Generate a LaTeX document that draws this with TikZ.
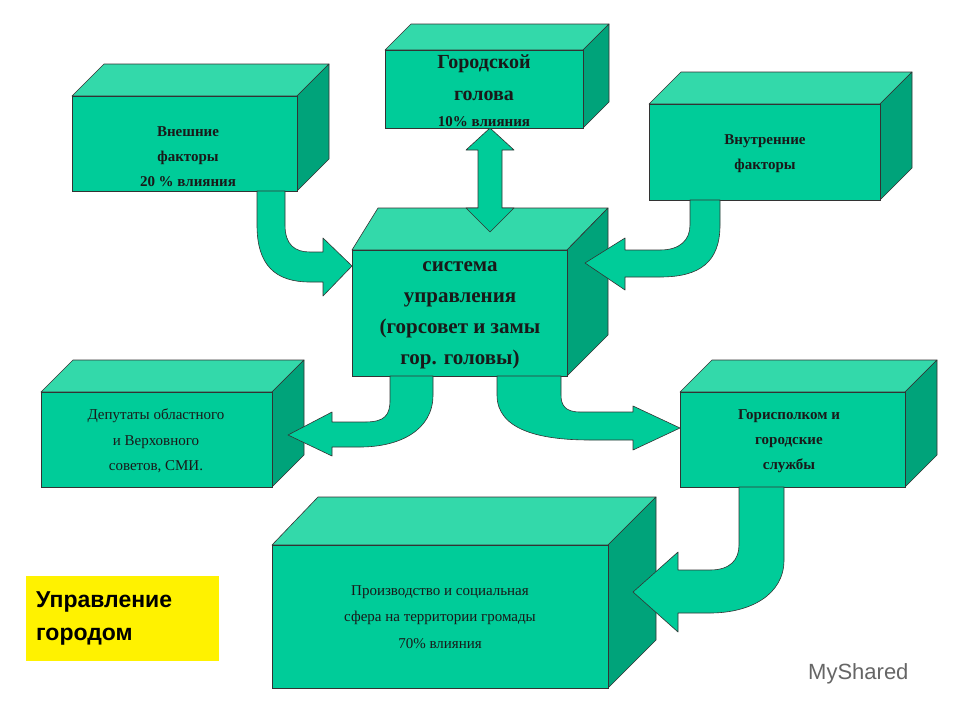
\documentclass[tikz,border=0pt]{standalone}
\usepackage{fontspec}
\setmainfont{Liberation Serif}
\newfontfamily\sansf{Liberation Sans}
\begin{document}
\begin{tikzpicture}[x=1pt,y=-1pt,
  arr/.style={fill=arrg,draw=black!80,line width=0.6pt,line join=round},
  lbl/.style={font=\bfseries\fontsize{15}{25}\selectfont,align=center,text=black!90,inner sep=0},
  big/.style={font=\bfseries\fontsize{21}{31}\selectfont,align=center,text=black!90,inner sep=0}]
\definecolor{frontg}{RGB}{0,204,153}
\definecolor{topg}{RGB}{51,217,170}
\definecolor{sideg}{RGB}{0,163,122}
\definecolor{arrg}{RGB}{0,204,153}
\useasboundingbox (0,0) rectangle (960,720);
\fill[white] (0,0) rectangle (960,720);
% box macro: x1,y1,x2,y2,d,leftback
\newcommand{\cube}[7]{%
  \filldraw[fill=topg,draw=black!80,line width=0.6pt,line join=round] (#1,#2)--(#3,#2)--(#3+#5,#2-#5)--(#1+#6,#2-#5)--cycle;
  \filldraw[fill=sideg,draw=black!80,line width=0.6pt,line join=round] (#3,#2)--(#3+#5,#2-#5)--(#3+#5,#4-#5)--(#3,#4)--cycle;
  \filldraw[fill=frontg,draw=black!80,line width=0.6pt] (#1,#2) rectangle (#3,#4);
  \coordinate (#7) at ({(#1+#3)/2},{(#2+#4)/2});}
\cube{72}{96}{297}{191}{32}{32}{b1}
\cube{385}{50}{583}{128}{26}{26}{b2}
\cube{649}{104}{880}{200}{32}{32}{b3}
\cube{41}{392}{272}{487}{32}{32}{b5}
\cube{680}{392}{905}{487}{32}{32}{b6}
\cube{272}{545}{608}{688}{48}{46}{b7}
% center box
\filldraw[fill=topg,draw=black!80,line width=0.6pt,line join=round] (352,250)--(567,250)--(608,208)--(378,208)--cycle;
\filldraw[fill=sideg,draw=black!80,line width=0.6pt,line join=round] (567,250)--(608,208)--(608,335)--(567,376)--cycle;
\filldraw[fill=frontg,draw=black!80,line width=0.6pt] (352,250) rectangle (567,376);
\coordinate (b4) at (460,313);
% arrows
\path[arr] (257,191) -- (257,225) .. controls (257,265) and (275,282) .. (310,282) -- (323,282) -- (323,296) -- (352,266) -- (323,238) -- (323,252) -- (310,252) .. controls (295,252) and (285,245) .. (285,225) -- (285,191) -- cycle;
\path[arr] (720,200) -- (720,225) .. controls (720,262) and (700,277) .. (660,277) -- (625,277) -- (625,290) -- (585,263) -- (625,238) -- (625,250) -- (660,250) .. controls (680,250) and (690,240) .. (690,225) -- (690,200) -- cycle;
\path[arr] (433,376) -- (433,395) .. controls (433,430) and (400,447) .. (360,447) -- (332,447) -- (332,456) -- (288,435) -- (332,412) -- (332,422) -- (365,422) .. controls (385,422) and (390,415) .. (390,400) -- (390,376) -- cycle;
\path[arr] (497,376) -- (497,395) .. controls (497,430) and (540,440) .. (590,440) -- (633,440) -- (633,450) -- (680,428) -- (633,406) -- (633,412) -- (580,412) .. controls (565,412) and (561,405) .. (561,395) -- (561,376) -- cycle;
\path[arr] (784,487) -- (784,560) .. controls (784,595) and (750,613) .. (710,613) -- (678,613) -- (678,632) -- (633,592) -- (678,552) -- (678,570) -- (710,570) .. controls (730,570) and (739,560) .. (739,545) -- (739,487) -- cycle;
\path[arr] (490,128) -- (514,150) -- (502,150) -- (502,208) -- (514,208) -- (490,232) -- (466,208) -- (478,208) -- (478,150) -- (466,150) -- cycle;
% texts
\node[lbl] (t1) at (188,157) {Внешние\\ факторы\\20 \%  влияния};
\node[big,font=\bfseries\fontsize{20}{32}\selectfont] (t2) at (484,78) {Городской\\голова};
\node[lbl] (t2b) at (484,122) {10\% влияния};
\node[lbl] (t3) at (765,154) {Внутренние\\факторы};
\node[big] (t4) at (460,315) {система\\управления\\(горсовет и замы\\гор. головы)};
\node[lbl,font=\fontsize{15}{25.5}\selectfont] (t5) at (156,441) {Депутаты областного\\и Верховного\\советов,  СМИ.};
\node[lbl] (t6) at (789,441) {Горисполком и\\городские\\службы};
\node[lbl,font=\fontsize{15}{26.5}\selectfont] (t7) at (440,617) {Производство  и  социальная\\сфера на территории громады\\70\%  влияния};
\node[fill=yellow,minimum width=193,minimum height=85,anchor=north west,inner sep=0] (y) at (26,576) {};
\node[font=\sansf\bfseries\fontsize{23}{33}\selectfont,align=left,anchor=west,inner sep=0] (yt) at (36,618) {Управление\\городом};
\node[font=\sansf\fontsize{22}{24}\selectfont,text=black!60,anchor=west,inner sep=0] (wm) at (808,674) {MyShared};
\end{tikzpicture}
\end{document}
